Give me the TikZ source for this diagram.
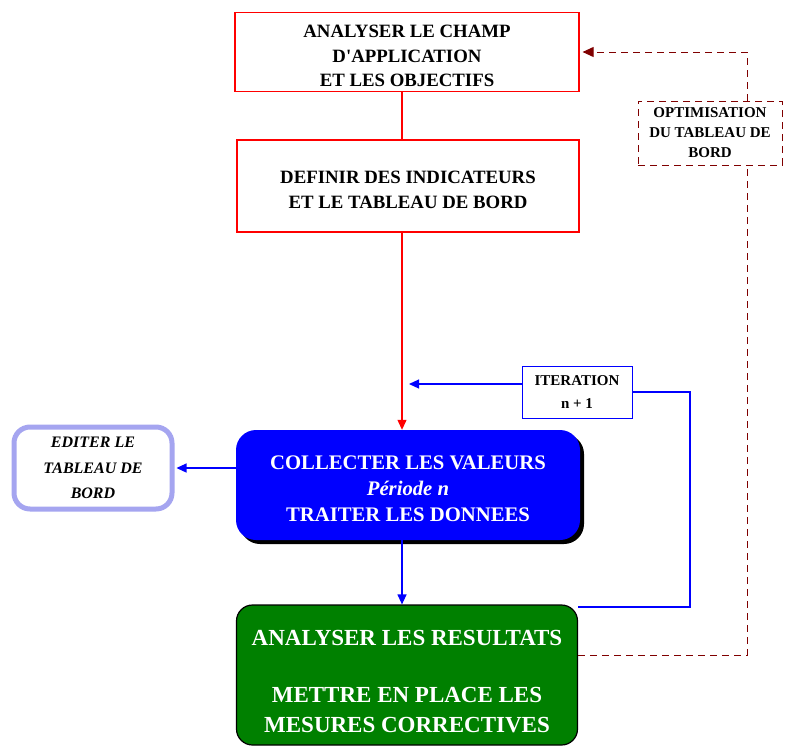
\documentclass[tikz,border=0pt]{standalone}
\usepackage{fontspec}
\setmainfont{Liberation Serif}
\usetikzlibrary{arrows.meta,shadows}
\definecolor{rouge}{RGB}{255,0,0}
\definecolor{bleu}{RGB}{0,0,255}
\definecolor{vert}{RGB}{0,128,0}
\definecolor{bordeaux}{RGB}{128,0,0}
\definecolor{lavande}{RGB}{165,165,240}

\begin{document}
\begin{tikzpicture}[x=1pt,y=-1pt,
  boite/.style={draw=rouge, line width=1.2pt, fill=white, align=center,
    font=\bfseries\fontsize{18.8}{24.5}\selectfont, inner sep=0pt},
  petite/.style={align=center, fill=white, inner sep=0pt,
    font=\bfseries\fontsize{15}{20}\selectfont},
  fleche/.style={-{Triangle[length=10pt,width=9pt]}}]
\useasboundingbox (0,0) rectangle (791,747);
%
% Boites :
\node[boite, minimum width=344pt, minimum height=79pt,
  label={[boite, draw=none, yshift=-4pt]center:{ANALYSER LE CHAMP\\D\textquotesingle APPLICATION\\ET LES OBJECTIFS}}]
  (champ) at (407,52) {};
\node[boite, minimum width=342pt, minimum height=92pt,
  label={[boite, draw=none, yshift=-4pt]center:{DEFINIR DES INDICATEURS\\ET LE TABLEAU DE BORD}}]
  (indic) at (408,186) {};
\node[fill=bleu, rounded corners=20pt, inner sep=0pt,
  minimum width=344pt, minimum height=110pt,
  drop shadow={shadow xshift=4pt, shadow yshift=-4pt, fill=black, opacity=1},
  label={[text=white, align=center, yshift=-4pt,
    font=\bfseries\fontsize{20.7}{26}\selectfont]center:{COLLECTER LES VALEURS\\\textit{Période n}\\TRAITER LES DONNEES}}]
  (collecte) at (408,485) {};
\node[draw=black, line width=1.2pt, fill=vert, rounded corners=16pt,
  inner sep=0pt, minimum width=341pt, minimum height=140pt,
  label={[text=white, align=center, yshift=-7pt,
    font=\bfseries\fontsize{23}{30}\selectfont]center:{ANALYSER LES RESULTATS\\[27pt]METTRE EN PLACE LES\\MESURES CORRECTIVES}}]
  (resultats) at (407,675) {};
\node[draw=lavande, line width=5pt, rounded corners=16pt, fill=white, align=center,
  inner sep=0pt, minimum width=158pt, minimum height=82pt,
  font=\bfseries\itshape\fontsize{16}{25.5}\selectfont] (editer) at (93,468)
  {EDITER LE\\TABLEAU DE\\BORD};
\node[petite, draw=bleu, line width=1pt, minimum width=110pt, minimum height=52pt,
  font=\bfseries\fontsize{15}{23}\selectfont] (iter) at (577,392)
  {ITERATION\\n + 1};
\node[petite, draw=bordeaux, line width=1pt, dash pattern=on 7pt off 5pt,
  minimum width=144pt, minimum height=64pt] (optim) at (710,133)
  {OPTIMISATION\\DU TABLEAU DE\\BORD};
%
% Liaisons :
\coordinate (axe) at (402,0);
\coordinate (retour) at (409,384);
\draw[rouge, line width=1.2pt] (champ.south -| axe) -- (indic.north -| axe);
\draw[rouge, line width=1.2pt, fleche] (indic.south -| axe) -- (collecte.north -| axe);
\draw[bleu, line width=1.2pt, fleche] (collecte.south -| axe) -- (resultats.north -| axe);
\draw[bleu, line width=1.2pt, fleche] (collecte.west |- editer.east) -- ([xshift=2pt]editer.east);
\draw[bleu, line width=1.2pt] (resultats.east |- 0,607) -- (690,607) |- (iter.east);
\draw[bleu, line width=1.2pt, fleche] (iter.west |- retour) -- (retour);
\draw[bordeaux, line width=1pt, dash pattern=on 7pt off 5pt]
  (resultats.east |- 0,655) -| (optim.south -| 747,0);
\draw[bordeaux, line width=1pt, dash pattern=on 7pt off 5pt,
  -{Triangle[length=11pt,width=10pt]}]
  (optim.north -| 747,0) |- ([xshift=3pt]champ.east);
\end{tikzpicture}
\end{document}
